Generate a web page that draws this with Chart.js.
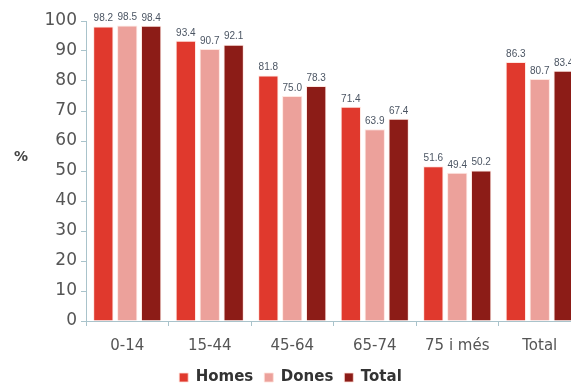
<!DOCTYPE html>
<html>
<head>
<meta charset="utf-8">
<script src="https://cdn.jsdelivr.net/npm/chart.js@4.4.1/dist/chart.umd.min.js"></script>
<style>
  html, body { margin: 0; padding: 0; background: #fff; overflow: hidden; }
  #wrap { width: 590px; height: 385px; }
</style>
</head>
<body>
<div id="wrap"><canvas id="chart" width="590" height="385"></canvas></div>
<script>
// age groups and percentages per sex
const categories = ['0-14', '15-44', '45-64', '65-74', '75 i més', 'Total'];
const homes = [98.2, 93.4, 81.8, 71.4, 51.6, 86.3];
const dones = [98.5, 90.7, 75.0, 63.9, 49.4, 80.7];
const total = [98.4, 92.1, 78.3, 67.4, 50.2, 83.4];
const yTicks = [0, 10, 20, 30, 40, 50, 60, 70, 80, 90, 100];

const axisColor = '#a9c3cb';

// numbers above each bar
const valueLabels = {
  id: 'valueLabels',
  afterDatasetsDraw(chart) {
    const ctx = chart.ctx;
    ctx.save();
    ctx.font = '10px "Liberation Sans", Arial, sans-serif';
    ctx.fillStyle = '#4b5563';
    ctx.textAlign = 'center';
    ctx.textBaseline = 'bottom';
    chart.data.datasets.forEach((ds, i) => {
      chart.getDatasetMeta(i).data.forEach((bar, j) => {
        ctx.fillText(ds.data[j].toFixed(1), bar.x, bar.y - 3);
      });
    });
    ctx.restore();
  }
};

// unrotated "%" beside the y axis
const percentLabel = {
  id: 'percentLabel',
  afterDraw(chart) {
    const ctx = chart.ctx;
    ctx.save();
    ctx.font = 'bold 14px "DejaVu Sans", sans-serif';
    ctx.fillStyle = '#444';
    ctx.textAlign = 'center';
    ctx.textBaseline = 'middle';
    ctx.fillText('%', 21, 157);
    ctx.restore();
  }
};

new Chart(document.getElementById('chart'), {
  type: 'bar',
  data: {
    labels: categories,
    datasets: [
      { label: 'Homes', data: homes, backgroundColor: '#e0392d' },
      { label: 'Dones', data: dones, backgroundColor: '#eca19b' },
      { label: 'Total', data: total, backgroundColor: '#8c1c17' }
    ].map(d => Object.assign(d, {
      borderColor: 'rgba(255,225,218,0.8)',
      borderWidth: 1,
      categoryPercentage: 0.87,
      barPercentage: 0.85
    }))
  },
  options: {
    responsive: false,
    animation: false,
    layout: { padding: { top: 21, right: 9, left: 0, bottom: -10 } },
    plugins: {
      tooltip: { enabled: false },
      legend: {
        position: 'bottom',
        labels: {
          boxWidth: 9,
          boxHeight: 9,
          padding: 11,
          color: '#333',
          font: { family: '"DejaVu Sans", sans-serif', size: 15, weight: 'bold' }
        }
      }
    },
    scales: {
      x: {
        grid: { display: true, drawOnChartArea: false, color: axisColor, tickLength: 5 },
        border: { color: axisColor, width: 1 },
        ticks: {
          color: '#555',
          padding: 11,
          font: { family: '"DejaVu Sans", sans-serif', size: 15 }
        },
        afterFit(scale) { scale.height = 38; }
      },
      y: {
        min: 0,
        max: 100,
        afterBuildTicks(scale) { scale.ticks = yTicks.map(v => ({ value: v })); },
        grid: { display: true, drawOnChartArea: false, color: axisColor, tickLength: 5 },
        border: { color: axisColor, width: 1 },
        ticks: {
          color: '#555',
          padding: 4,
          font: { family: '"DejaVu Sans", sans-serif', size: 17 }
        },
        afterFit(scale) { scale.width = 86; }
      }
    }
  },
  plugins: [valueLabels, percentLabel]
});
</script>
</body>
</html>
